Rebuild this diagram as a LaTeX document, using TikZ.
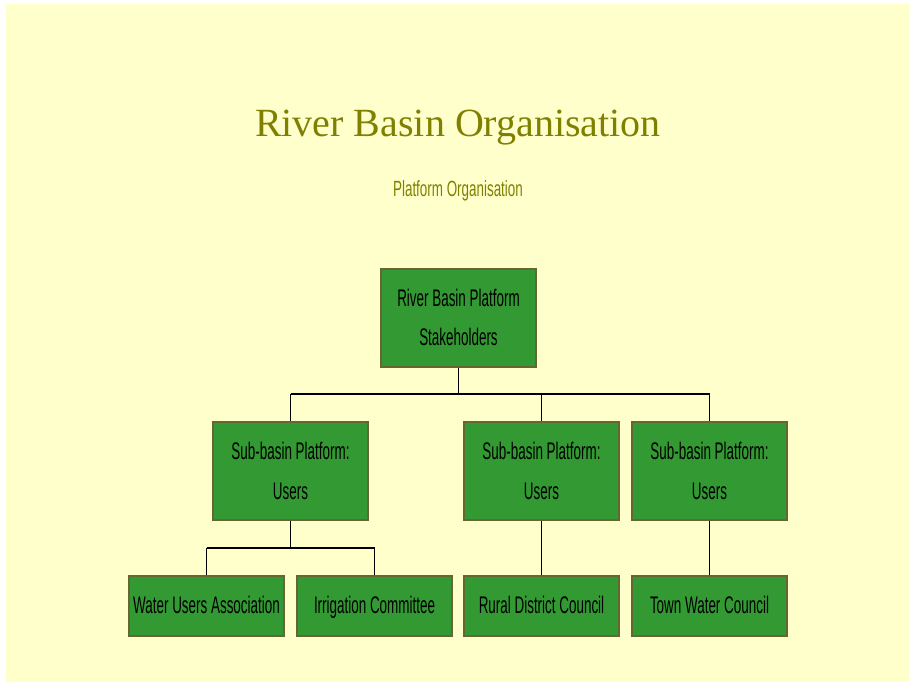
\documentclass[tikz,border=0pt]{standalone}
\usepackage{fontspec}
\setmainfont{Liberation Serif}
\newfontfamily\narrowfont{Liberation Sans}[FakeStretch=0.56]
\newfontfamily\subfont{Liberation Sans}[FakeStretch=0.61]
\begin{document}
\begin{tikzpicture}[x=1pt,y=-1pt,
  box/.style={draw=boxborder,line width=2pt,fill=boxgreen,minimum width=155pt,inner sep=0pt,
    font=\narrowfont\fontsize{24}{39.5}\selectfont,align=center,text=black},
  bigbox/.style={box,minimum height=98pt},
  smallbox/.style={box,minimum height=60pt,text height=18pt,text depth=3pt},
  conn/.style={black,line width=1pt},
  bus/.style={black,line width=2pt}]
\definecolor{bg}{HTML}{FFFFCC}
\definecolor{olive}{HTML}{808000}
\definecolor{boxgreen}{HTML}{339933}
\definecolor{boxborder}{HTML}{666633}
\useasboundingbox (0,0) rectangle (909,682);
\fill[white] (0,0) rectangle (909,682);
\fill[bg] (6,4) rectangle (909,682);
\node[text=olive,font=\fontsize{40}{44}\selectfont] (title) at (458,128) {River Basin Organisation};
\node[text=olive,font=\subfont\fontsize{22}{24}\selectfont] (sub) at (458,191) {Platform Organisation};
\node[bigbox] (top) at (458.5,317.5) {River Basin Platform\\Stakeholders};
\node[bigbox] (m1) at (290.5,471) {Sub-basin Platform:\\Users};
\node[bigbox] (m2) at (541.5,471) {Sub-basin Platform:\\Users};
\node[bigbox] (m3) at (709.5,471) {Sub-basin Platform:\\Users};
\node[smallbox] (b1) at (206.5,605.5) {Water Users Association};
\node[smallbox] (b2) at (374.5,605.5) {Irrigation Committee};
\node[smallbox] (b3) at (541.5,605.5) {Rural District Council};
\node[smallbox] (b4) at (709.5,605.5) {Town Water Council};
\coordinate (j0) at (458.5,394);
\coordinate (j1) at (290.5,548);
\draw[conn] (top.south) -- (j0);
\draw[bus] (m1.north |- j0) -- (m3.north |- j0);
\draw[conn] (j0 -| m1.north) -- (m1.north);
\draw[conn] (j0 -| m2.north) -- (m2.north);
\draw[conn] (j0 -| m3.north) -- (m3.north);
\draw[conn] (m1.south) -- (j1);
\draw[bus] (b1.north |- j1) -- (b2.north |- j1);
\draw[conn] (j1 -| b1.north) -- (b1.north);
\draw[conn] (j1 -| b2.north) -- (b2.north);
\draw[conn] (m2.south) -- (b3.north);
\draw[conn] (m3.south) -- (b4.north);
\end{tikzpicture}
\end{document}
